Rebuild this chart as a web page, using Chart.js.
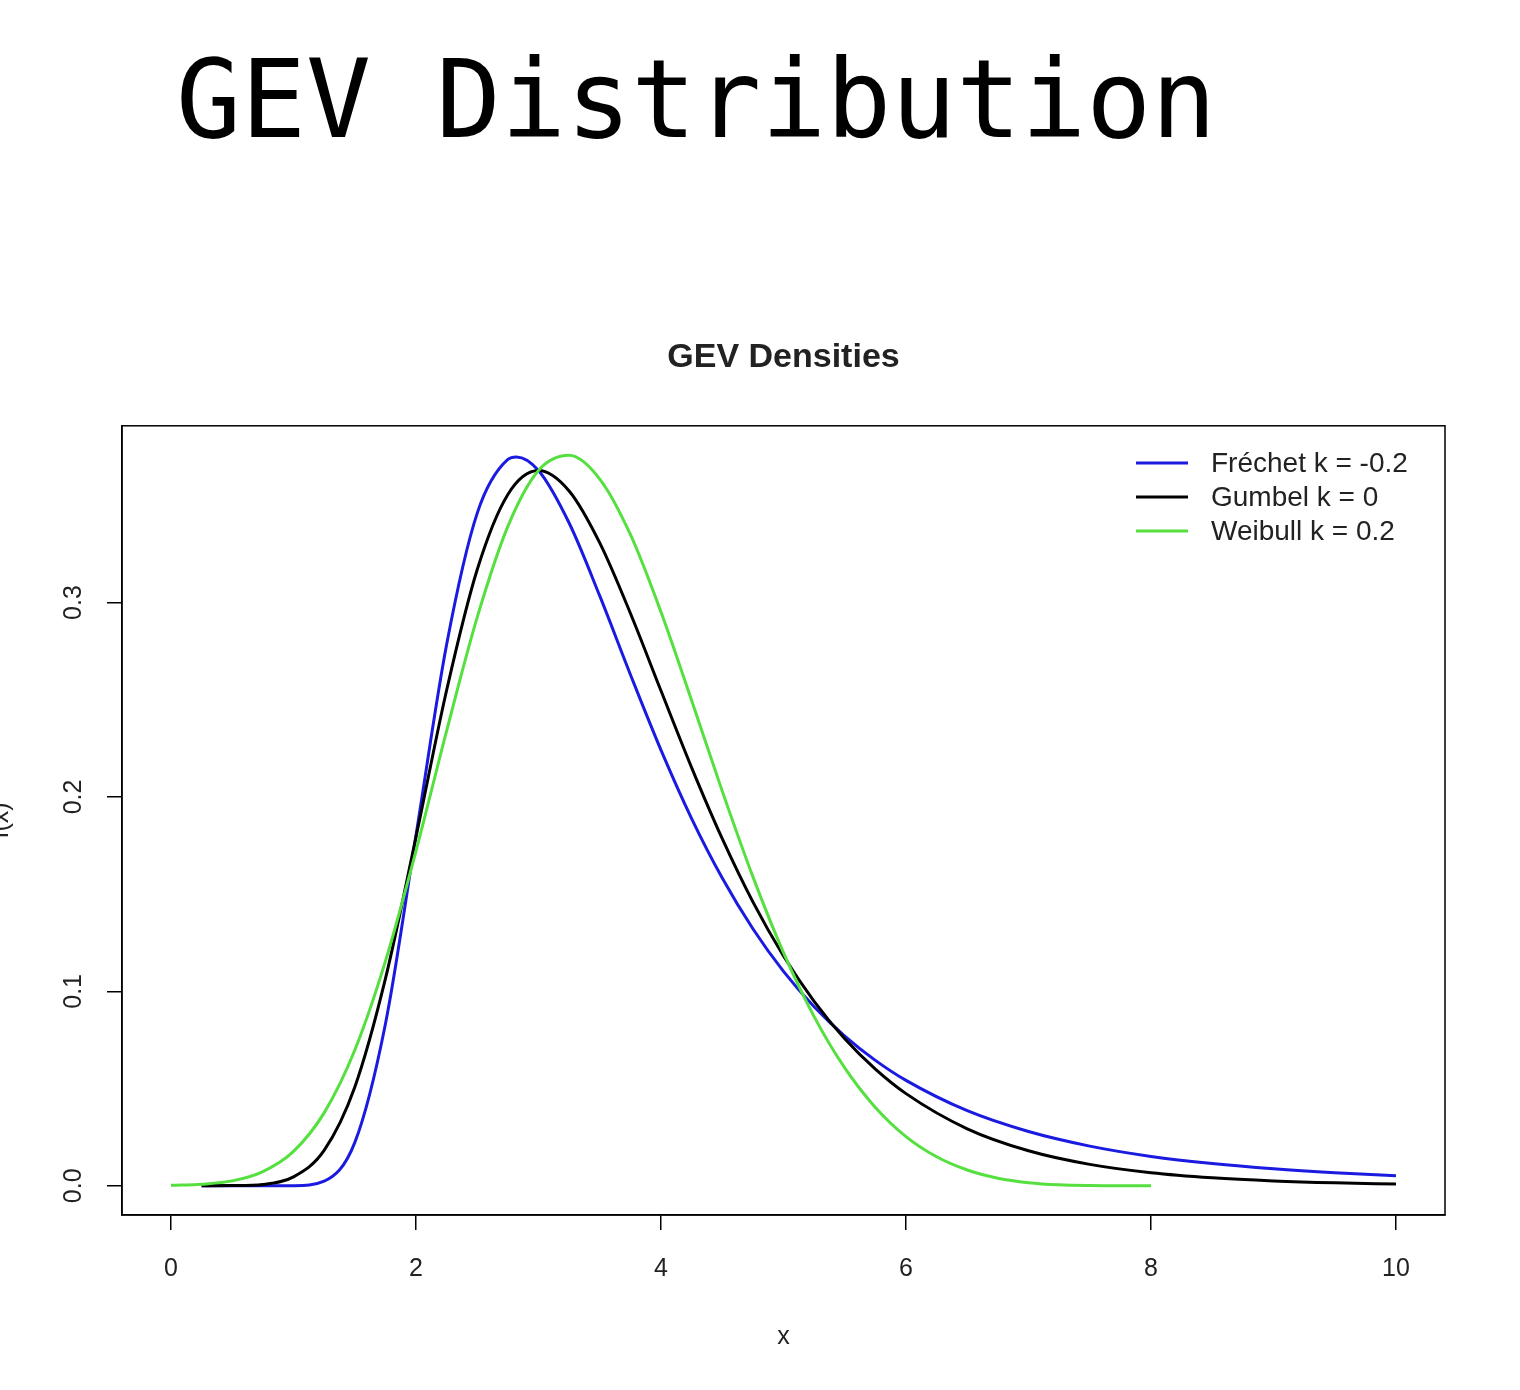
<!DOCTYPE html>
<html>
<head>
<meta charset="utf-8">
<title>GEV Distribution</title>
<script src="https://cdn.jsdelivr.net/npm/chart.js@4/dist/chart.umd.min.js"></script>
<style>
  html, body { margin: 0; padding: 0; background: #fff; }
  #page { position: relative; width: 1520px; height: 1390px; overflow: hidden; }
  #heading {
    position: absolute; left: 176px; top: 46px; margin: 0;
    font-family: 'DejaVu Sans Mono', monospace; font-weight: normal;
    font-size: 108px; line-height: 1; color: #000; white-space: pre;
  }
  #wrap { position: absolute; left: 0; top: 0; width: 1520px; height: 1390px; }
</style>
</head>
<body>
<div id="page">
  <div id="wrap"><canvas id="gevChart"></canvas></div>
  <h1 id="heading">GEV Distribution</h1>
</div>
<script>
// density values (mu = 3, sigma = 1)
var seriesLabels = ['Fréchet k = -0.2', 'Gumbel k = 0', 'Weibull k = 0.2'];
var seriesColors = ['#1a1ae0', '#000000', '#55e040'];

var xFrechet = [0.25, 0.5, 0.75, 1, 1.25, 1.5, 1.75, 2, 2.25, 2.5, 2.75, 2.82, 3,
  3.25, 3.5, 3.75, 4, 4.25, 4.5, 4.75, 5, 5.25, 5.5, 5.75, 6,
  6.5, 7, 7.5, 8, 8.5, 9, 9.5, 10];
var yFrechet = [0, 0, 0, 0.00006, 0.0024, 0.0222, 0.0831, 0.1803, 0.2784, 0.3460, 0.3736, 0.3749, 0.3679,
  0.3409, 0.3034, 0.2630, 0.2241, 0.1889, 0.1583, 0.1322, 0.1103, 0.0921, 0.0770, 0.0645, 0.0542,
  0.0386, 0.0279, 0.0204, 0.0151, 0.0114, 0.0087, 0.0067, 0.0052];

var xGumbel = [0.25, 0.5, 0.75, 1, 1.25, 1.5, 1.75, 2, 2.25, 2.5, 2.75, 3,
  3.25, 3.5, 3.75, 4, 4.25, 4.5, 4.75, 5, 5.25, 5.5, 5.75, 6,
  6.5, 7, 7.5, 8, 8.5, 9, 9.5, 10];
var yGumbel = [0, 0.0001, 0.0007, 0.0046, 0.0182, 0.0507, 0.1064, 0.1794, 0.2549, 0.3170, 0.3556, 0.3679,
  0.3574, 0.3307, 0.2945, 0.2546, 0.2151, 0.1785, 0.1460, 0.1182, 0.0949, 0.0756, 0.0600, 0.0474,
  0.0293, 0.0180, 0.0110, 0.0067, 0.0041, 0.0025, 0.0015, 0.0009];

var xWeibull = [0, 0.25, 0.5, 0.75, 1, 1.25, 1.5, 1.75, 2, 2.25, 2.5, 2.75, 3,
  3.25, 3.5, 3.75, 4, 4.25, 4.5, 4.75, 5, 5.25, 5.5, 5.75, 6,
  6.25, 6.5, 6.75, 7, 7.25, 7.5, 7.75, 8];
var yWeibull = [0.0002, 0.0008, 0.0025, 0.0073, 0.0177, 0.0375, 0.0697, 0.1154, 0.1722, 0.2340, 0.2925, 0.3392, 0.3679,
  0.3757, 0.3635, 0.3350, 0.2951, 0.2496, 0.2030, 0.1590, 0.1199, 0.0870, 0.0606, 0.0403, 0.0253,
  0.0149, 0.0081, 0.0039, 0.0016, 0.0005, 0.0001, 0, 0];

var xTicks = [0, 2, 4, 6, 8, 10];
var yTicks = [0, 0.1, 0.2, 0.3];

var textFont = "'Liberation Sans', Arial, sans-serif";
var textColor = '#222';

function toPoints(xs, ys) {
  return xs.map(function (x, i) { return { x: x, y: ys[i] }; });
}

function makeSet(i, xs, ys, order) {
  return {
    label: seriesLabels[i],
    data: toPoints(xs, ys),
    borderColor: seriesColors[i],
    backgroundColor: seriesColors[i],
    borderWidth: 3,
    pointRadius: 0,
    cubicInterpolationMode: 'monotone',
    order: order
  };
}

// R style box round the plot region
var boxPlugin = {
  id: 'plotBox',
  afterDraw: function (chart) {
    var a = chart.chartArea, ctx = chart.ctx;
    ctx.save();
    ctx.strokeStyle = '#000';
    ctx.lineWidth = 1.5;
    ctx.strokeRect(a.left, a.top, a.right - a.left, a.bottom - a.top);
    ctx.restore();
  }
};

// legend in the top right corner, inside the box
var legendPlugin = {
  id: 'cornerLegend',
  afterDraw: function (chart) {
    var ctx = chart.ctx;
    ctx.save();
    ctx.font = '28px ' + textFont;
    ctx.textBaseline = 'middle';
    ctx.textAlign = 'left';
    seriesLabels.forEach(function (lab, i) {
      var y = 463 + i * 34;
      ctx.strokeStyle = seriesColors[i];
      ctx.lineWidth = 3;
      ctx.beginPath();
      ctx.moveTo(1136, y);
      ctx.lineTo(1188, y);
      ctx.stroke();
      ctx.fillStyle = textColor;
      ctx.fillText(lab, 1211, y + 1);
    });
    ctx.restore();
  }
};

var ctx = document.getElementById('gevChart');
var chart = new Chart(ctx, {
  type: 'line',
  data: {
    datasets: [
      makeSet(0, xFrechet, yFrechet, 2),
      makeSet(1, xGumbel, yGumbel, 1),
      makeSet(2, xWeibull, yWeibull, 0)
    ]
  },
  options: {
    responsive: true,
    maintainAspectRatio: false,
    animation: false,
    layout: { padding: { left: 0, right: 75, top: 0, bottom: 0 } },
    plugins: {
      legend: { display: false },
      tooltip: { enabled: false },
      title: {
        display: true,
        fullSize: false,
        text: 'GEV Densities',
        color: textColor,
        font: { family: textFont, size: 34, weight: 'bold', lineHeight: 1.2 },
        padding: { top: 337, bottom: 48 }
      }
    },
    scales: {
      x: {
        type: 'linear',
        min: -0.4,
        max: 10.4,
        afterBuildTicks: function (scale) {
          scale.ticks = xTicks.map(function (v) { return { value: v }; });
        },
        afterFit: function (scale) { scale.height = 175; },
        grid: { drawOnChartArea: false, drawTicks: true, tickLength: 15, color: '#000', lineWidth: 1.5 },
        border: { display: true, color: '#000', width: 1.5 },
        ticks: {
          color: textColor, padding: 24, maxRotation: 0,
          font: { family: textFont, size: 25 },
          callback: function (v) { return String(v); }
        },
        title: {
          display: true, text: 'x', color: textColor,
          font: { family: textFont, size: 25, lineHeight: 1.2 },
          padding: { top: 0, bottom: 38 }
        }
      },
      y: {
        type: 'linear',
        min: -0.01504,
        max: 0.39091,
        afterBuildTicks: function (scale) {
          scale.ticks = yTicks.map(function (v) { return { value: v }; });
        },
        afterFit: function (scale) { scale.width = 122; },
        grid: { drawOnChartArea: false, drawTicks: true, tickLength: 15, color: '#000', lineWidth: 1.5 },
        border: { display: true, color: '#000', width: 1.5 },
        ticks: {
          color: textColor, padding: 16, minRotation: 90, maxRotation: 90,
          crossAlign: 'center',
          font: { family: textFont, size: 25 },
          callback: function (v) { return v.toFixed(1); }
        },
        title: {
          display: true, text: 'f(x)', color: textColor,
          font: { family: textFont, size: 25, lineHeight: 1.2 },
          padding: { top: -14, bottom: 0 }
        }
      }
    }
  },
  plugins: [boxPlugin, legendPlugin]
});
</script>
</body>
</html>
